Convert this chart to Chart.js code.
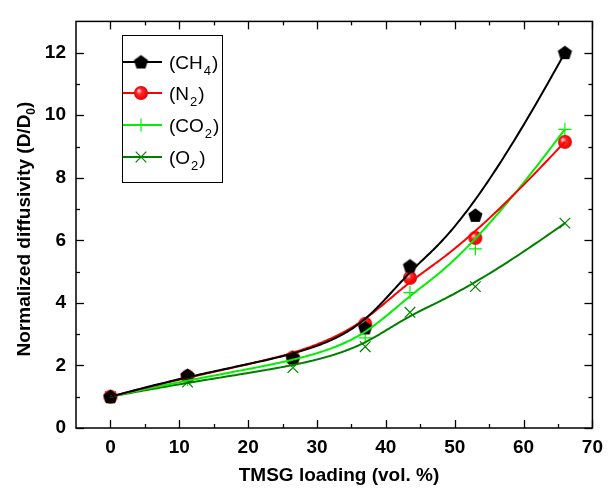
<!DOCTYPE html>
<html>
<head>
<meta charset="utf-8">
<script src="https://cdn.jsdelivr.net/npm/chart.js@4.4.1/dist/chart.umd.min.js"></script>
<style>
  body { margin: 0; background: #fff; }
  canvas { display: block; }
</style>
</head>
<body>
<canvas id="chart" width="611" height="494"></canvas>
<script>
// measured points
const xLoad = [0, 11.2, 26.5, 37, 43.5, 53, 66];
const ch4 = [1.0, 1.68, 2.25, 3.2, 5.18, 6.8, 12.0];
const n2 = [1.0, 1.65, 2.25, 3.33, 4.8, 6.08, 9.15];
const co2 = [1.0, 1.55, 2.08, 2.88, 4.33, 5.73, 9.55];
const o2 = [1.0, 1.47, 1.93, 2.6, 3.7, 4.52, 6.55];

// axes
const xTicks = [0, 10, 20, 30, 40, 50, 60, 70];
const yTicks = [0, 2, 4, 6, 8, 10, 12];

const FONT = "'Liberation Sans', Arial, sans-serif";

// point markers
function pentagon(r, color) {
  const c = document.createElement("canvas");
  c.width = c.height = Math.ceil(2 * r + 2);
  const g = c.getContext("2d");
  const cx = c.width / 2, cy = c.height / 2 + 0.5;
  g.beginPath();
  for (let k = 0; k < 5; k++) {
    const a = -Math.PI / 2 + k * 2 * Math.PI / 5;
    const px = cx + r * Math.cos(a), py = cy + r * Math.sin(a);
    k ? g.lineTo(px, py) : g.moveTo(px, py);
  }
  g.closePath();
  g.fillStyle = color;
  g.fill();
  return c;
}

function ball(r) {
  const c = document.createElement("canvas");
  c.width = c.height = Math.ceil(2 * r + 2);
  const g = c.getContext("2d");
  const cx = c.width / 2, cy = c.height / 2;
  const grad = g.createRadialGradient(cx - r * 0.35, cy - r * 0.35, 0.5, cx, cy, r);
  grad.addColorStop(0, "#ffd8d8");
  grad.addColorStop(0.35, "#ff2a2a");
  grad.addColorStop(1, "#e00000");
  g.beginPath();
  g.arc(cx, cy, r, 0, Math.PI * 2);
  g.fillStyle = grad;
  g.fill();
  return c;
}

const pentImg = pentagon(7.5, "#000");
const ballImg = ball(7);

const gases = [
  { name: "CH", sub: "4", color: "#000000", pts: ch4, style: pentImg, radius: 7, width: 1 },
  { name: "N", sub: "2", color: "#ff0000", pts: n2, style: ballImg, radius: 7, width: 1 },
  { name: "CO", sub: "2", color: "#00f000", pts: co2, style: "cross", radius: 6.5, width: 1.2 },
  { name: "O", sub: "2", color: "#008000", pts: o2, style: "crossRot", radius: 7.5, width: 1.2 }
];

const datasets = [];
gases.forEach(gs => {
  // connecting line, drawn as a B-spline by the plugin below
  datasets.push({
    bspline: true,
    data: xLoad.map((x, i) => ({ x, y: gs.pts[i] })),
    showLine: true,
    borderColor: gs.color,
    borderWidth: 2,
    pointRadius: 0
  });
});
gases.forEach(gs => {
  datasets.push({
    data: xLoad.map((x, i) => ({ x, y: gs.pts[i] })),
    showLine: false,
    pointStyle: gs.style,
    pointRadius: gs.radius,
    borderColor: gs.color,
    backgroundColor: gs.color,
    borderWidth: gs.width
  });
});

// clamped cubic B-spline through the point elements (control polygon = data)
function deBoor(ctrl, u, knots, k) {
  const p = 3;
  const d = [];
  for (let j = 0; j <= p; j++) d.push({ ...ctrl[j + k - p] });
  for (let r = 1; r <= p; r++) {
    for (let j = p; j >= r; j--) {
      const lo = knots[j + k - p], hi = knots[j + 1 + k - r];
      const al = hi === lo ? 0 : (u - lo) / (hi - lo);
      d[j] = { x: (1 - al) * d[j - 1].x + al * d[j].x, y: (1 - al) * d[j - 1].y + al * d[j].y };
    }
  }
  return d[p];
}

const bsplinePlugin = {
  id: "bspline",
  beforeDatasetDraw(chart, args) {
    const ds = chart.data.datasets[args.index];
    if (!ds.bspline) return;
    const ctrl = args.meta.data.map(el => ({ x: el.x, y: el.y }));
    const n = ctrl.length - 1, spans = n - 2;
    const knots = [0, 0, 0, 0];
    for (let i = 1; i < spans; i++) knots.push(i);
    knots.push(spans, spans, spans, spans);
    const ctx = chart.ctx;
    const a = chart.chartArea;
    ctx.save();
    ctx.beginPath();
    ctx.rect(a.left, a.top, a.right - a.left, a.bottom - a.top);
    ctx.clip();
    ctx.beginPath();
    const steps = 240;
    for (let s = 0; s <= steps; s++) {
      const u = spans * s / steps;
      let k = Math.min(Math.floor(u), spans - 1) + 3;
      const pt = deBoor(ctrl, u, knots, k);
      s ? ctx.lineTo(pt.x, pt.y) : ctx.moveTo(pt.x, pt.y);
    }
    ctx.strokeStyle = ds.borderColor;
    ctx.lineWidth = ds.borderWidth;
    ctx.lineJoin = "round";
    ctx.stroke();
    ctx.restore();
    return false;
  }
};

// frame, inward ticks, titles, legend
const decor = {
  id: "decor",
  afterDraw(chart) {
    const ctx = chart.ctx;
    const a = chart.chartArea;
    const xs = chart.scales.x, ys = chart.scales.y;
    ctx.save();
    ctx.strokeStyle = "#000";
    ctx.lineWidth = 1.5;
    ctx.strokeRect(a.left, a.top, a.right - a.left, a.bottom - a.top);

    ctx.lineWidth = 1.3;
    const tick = (x1, y1, x2, y2) => { ctx.beginPath(); ctx.moveTo(x1, y1); ctx.lineTo(x2, y2); ctx.stroke(); };
    xTicks.forEach((v, i) => {
      const px = Math.round(xs.getPixelForValue(v)) + 0.5;
      tick(px, a.bottom, px, a.bottom - 8);
      tick(px, a.top, px, a.top + 8);
      if (i > 0) {
        const m = Math.round(xs.getPixelForValue((v + xTicks[i - 1]) / 2)) + 0.5;
        tick(m, a.bottom, m, a.bottom - 4);
        tick(m, a.top, m, a.top + 4);
      }
    });
    yTicks.forEach((v, i) => {
      const py = Math.round(ys.getPixelForValue(v)) + 0.5;
      tick(a.left, py, a.left + 8, py);
      tick(a.right, py, a.right - 8, py);
      if (i > 0) {
        const m = Math.round(ys.getPixelForValue((v + yTicks[i - 1]) / 2)) + 0.5;
        tick(a.left, m, a.left + 4, m);
        tick(a.right, m, a.right - 4, m);
      }
    });

    // x title
    ctx.fillStyle = "#000";
    ctx.font = "bold 19px " + FONT;
    ctx.textAlign = "center";
    ctx.textBaseline = "middle";
    ctx.fillText("TMSG loading (vol. %)", 339, 476);

    // y title with subscript
    ctx.save();
    ctx.translate(23, 229);
    ctx.rotate(-Math.PI / 2);
    ctx.textAlign = "left";
    ctx.textBaseline = "alphabetic";
    const p1 = "Normalized diffusivity (D/D", p2 = "0", p3 = ")";
    ctx.font = "bold 19px " + FONT;
    const w1 = ctx.measureText(p1).width, w3 = ctx.measureText(p3).width;
    ctx.font = "bold 12px " + FONT;
    const w2 = ctx.measureText(p2).width;
    let sx = -(w1 + w2 + w3) / 2;
    ctx.font = "bold 19px " + FONT;
    ctx.fillText(p1, sx, 7);
    ctx.font = "bold 12px " + FONT;
    ctx.fillText(p2, sx + w1, 12);
    ctx.font = "bold 19px " + FONT;
    ctx.fillText(p3, sx + w1 + w2, 7);
    ctx.restore();

    // legend
    ctx.fillStyle = "#fff";
    ctx.fillRect(122, 35, 100, 147);
    ctx.strokeStyle = "#000";
    ctx.lineWidth = 1;
    ctx.strokeRect(122.5, 35.5, 100, 147);
    const rows = [62, 93, 125, 157];
    gases.forEach((gs, i) => {
      const y = rows[i];
      ctx.strokeStyle = gs.color;
      ctx.lineWidth = 2;
      tick(123, y, 162, y);
      if (typeof gs.style === "string") {
        ctx.lineWidth = gs.width;
        const r = gs.style === "cross" ? 6.5 : 5.3;
        if (gs.style === "cross") {
          tick(141 - r, y, 141 + r, y);
          tick(141, y - r, 141, y + r);
        } else {
          tick(141 - r, y - r, 141 + r, y + r);
          tick(141 - r, y + r, 141 + r, y - r);
        }
      } else {
        ctx.drawImage(gs.style, 141 - gs.style.width / 2, y - gs.style.height / 2);
      }
      ctx.fillStyle = "#000";
      ctx.textAlign = "left";
      ctx.textBaseline = "alphabetic";
      ctx.font = "19px " + FONT;
      const t1 = "(" + gs.name;
      ctx.fillText(t1, 169, y + 7);
      const tw = ctx.measureText(t1).width;
      ctx.font = "13px " + FONT;
      ctx.fillText(gs.sub, 169 + tw + 1, y + 13);
      const sw = ctx.measureText(gs.sub).width;
      ctx.font = "19px " + FONT;
      ctx.fillText(")", 169 + tw + sw + 2, y + 7);
    });
    ctx.restore();
  }
};

new Chart(document.getElementById("chart").getContext("2d"), {
  type: "scatter",
  data: { datasets },
  options: {
    responsive: false,
    devicePixelRatio: 1,
    animation: false,
    layout: { padding: { top: 5, right: 13, left: 0, bottom: 0 } },
    plugins: { legend: { display: false }, tooltip: { enabled: false } },
    scales: {
      x: {
        type: "linear",
        min: -5,
        max: 70,
        afterBuildTicks: s => { s.ticks = xTicks.map(v => ({ value: v })); },
        afterFit: s => { s.height = 66; },
        grid: { display: false, drawTicks: false },
        border: { display: false },
        ticks: { color: "#000", font: { family: FONT, size: 19, weight: "bold" }, padding: 8, maxRotation: 0 }
      },
      y: {
        type: "linear",
        min: 0,
        max: 13,
        afterBuildTicks: s => { s.ticks = yTicks.map(v => ({ value: v })); },
        afterFit: s => { s.width = 76; },
        grid: { display: false, drawTicks: false },
        border: { display: false },
        ticks: { color: "#000", font: { family: FONT, size: 19, weight: "bold" }, padding: 10 }
      }
    }
  },
  plugins: [bsplinePlugin, decor]
});
</script>
</body>
</html>
